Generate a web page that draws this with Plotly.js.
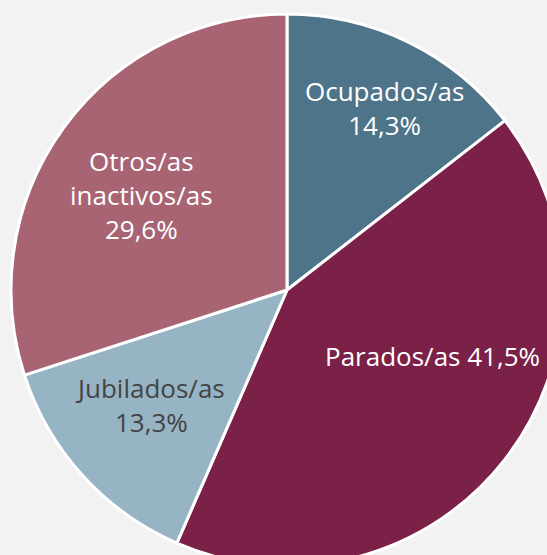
<!DOCTYPE html>
<html>
<head>
<meta charset="utf-8">
<script src="https://cdn.plot.ly/plotly-3.0.1.min.js"></script>
<style>
html,body{margin:0;padding:0;background:#f2f2f2;overflow:hidden;}
#chart{width:570px;height:570px;}
</style>
</head>
<body>
<div id="chart"></div>
<script>
const categories = ["Ocupados/as", "Parados/as", "Jubilados/as", "Otros/as<br>inactivos/as"];
const values = [14.3, 41.5, 13.3, 29.6];
const valueLabels = ["14,3%", "41,5%", "13,3%", "29,6%"];
const colors = ["#4e7489", "#7b2148", "#96b4c4", "#a86473"];
const textColors = ["#ffffff", "#ffffff", "#444444", "#ffffff"];
const separators = ["<br>", " ", "<br>", "<br>"];
// label anchor positions (paper fractions of the plot area)
const labelX = [0.676, 0.764, 0.252, 0.237];
const labelY = [0.830, 0.380, 0.292, 0.672];

const texts = categories.map((c, i) => c + separators[i] + valueLabels[i]);
const annotations = texts.map((t, i) => ({
  xref: "paper", yref: "paper",
  x: labelX[i], y: labelY[i],
  xanchor: "center", yanchor: "middle",
  text: t, showarrow: false, align: "center",
  font: {family: "'Open Sans', Lato, sans-serif", size: 26, color: textColors[i]}
}));

Plotly.newPlot("chart", [{
  type: "pie",
  labels: categories,
  values: values,
  text: texts,
  textinfo: "none",
  hoverinfo: "none",
  sort: false,
  direction: "clockwise",
  rotation: 0,
  marker: {colors: colors, line: {color: "#ffffff", width: 3}},
  domain: {x: [0, 1], y: [0, 1]}
}], {
  width: 570,
  height: 570,
  margin: {l: 11, r: 7, t: 14, b: 4, pad: 0},
  paper_bgcolor: "#f2f2f2",
  plot_bgcolor: "#f2f2f2",
  showlegend: false,
  annotations: annotations
}, {staticPlot: true, displayModeBar: false});
</script>
</body>
</html>
